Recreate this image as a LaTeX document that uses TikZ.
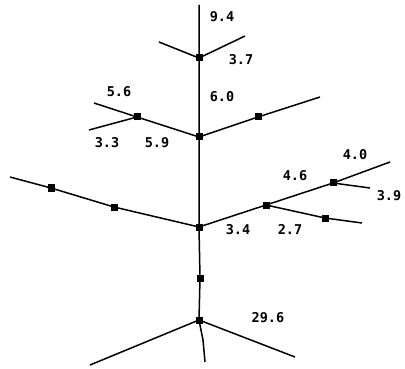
\documentclass[tikz,border=0pt]{standalone}
\usepackage{fontspec}
\setmainfont{DejaVu Sans Mono}
\begin{document}
\begin{tikzpicture}[x=1pt,y=-1pt,
  sq/.style={fill=black,minimum size=7pt,inner sep=0pt,outer sep=0pt},
  br/.style={line width=1.5pt},
  lab/.style={font=\fontsize{13.5}{15}\selectfont\bfseries,inner sep=0pt}]
\useasboundingbox (0,0) rectangle (405,369);
% stem nodes
\coordinate (top) at (199,5);
\node[sq] (n1) at (199,58) {};
\node[sq] (n2) at (199,137) {};
\node[sq] (n3) at (199,227) {};
\node[sq] (n4) at (200,278) {};
\node[sq] (n5) at (199,320) {};
\coordinate (bot1) at (203,340);
\coordinate (bot) at (205,362);
\draw[br] (top) -- (n1.center) -- (n2.center) -- (n3.center) -- (n4.center) -- (n5.center) -- (bot1) -- (bot);
% roots
\coordinate (rl) at (90,365);
\coordinate (rr) at (295,357);
\draw[br] (rl) -- (n5.center) -- (rr);
% top branch
\coordinate (t1l) at (159,42);
\coordinate (t1r) at (245,36);
\draw[br] (t1l) -- (n1.center) -- (t1r);
% second level
\node[sq] (a1) at (137,117) {};
\coordinate (a1a) at (94,103);
\coordinate (a1b) at (89,130);
\node[sq] (a2) at (258,117) {};
\coordinate (a2e) at (320,97);
\draw[br] (a1a) -- (a1.center) -- (n2.center) -- (a2.center) -- (a2e);
\draw[br] (a1b) -- (a1.center);
% third level left
\coordinate (l0) at (10,177);
\node[sq] (l1) at (51,188) {};
\node[sq] (l2) at (114,207) {};
\draw[br] (l0) -- (l1.center) -- (l2.center) -- (n3.center);
% third level right
\node[sq] (r1) at (266,205) {};
\node[sq] (r2) at (333,183) {};
\coordinate (r2e) at (390,162);
\coordinate (r2b) at (370,188);
\node[sq] (r3) at (325,218) {};
\coordinate (r3e) at (362,223);
\draw[br] (n3.center) -- (r1.center) -- (r2.center) -- (r2e);
\draw[br] (r2.center) -- (r2b);
\draw[br] (r1.center) -- (r3.center) -- (r3e);
% labels
\node[lab] (L94) at (222,17) {9.4};
\node[lab] (L37) at (241,60) {3.7};
\node[lab] (L60) at (222,97) {6.0};
\node[lab] (L56) at (119,92) {5.6};
\node[lab] (L33) at (107,143) {3.3};
\node[lab] (L59) at (157,143) {5.9};
\node[lab] (L40) at (355,155) {4.0};
\node[lab] (L46) at (295,176) {4.6};
\node[lab] (L39) at (389,196) {3.9};
\node[lab] (L34) at (238,230) {3.4};
\node[lab] (L27) at (290,229) {2.7};
\node[lab] (L296) at (268,318) {29.6};
\end{tikzpicture}
\end{document}
